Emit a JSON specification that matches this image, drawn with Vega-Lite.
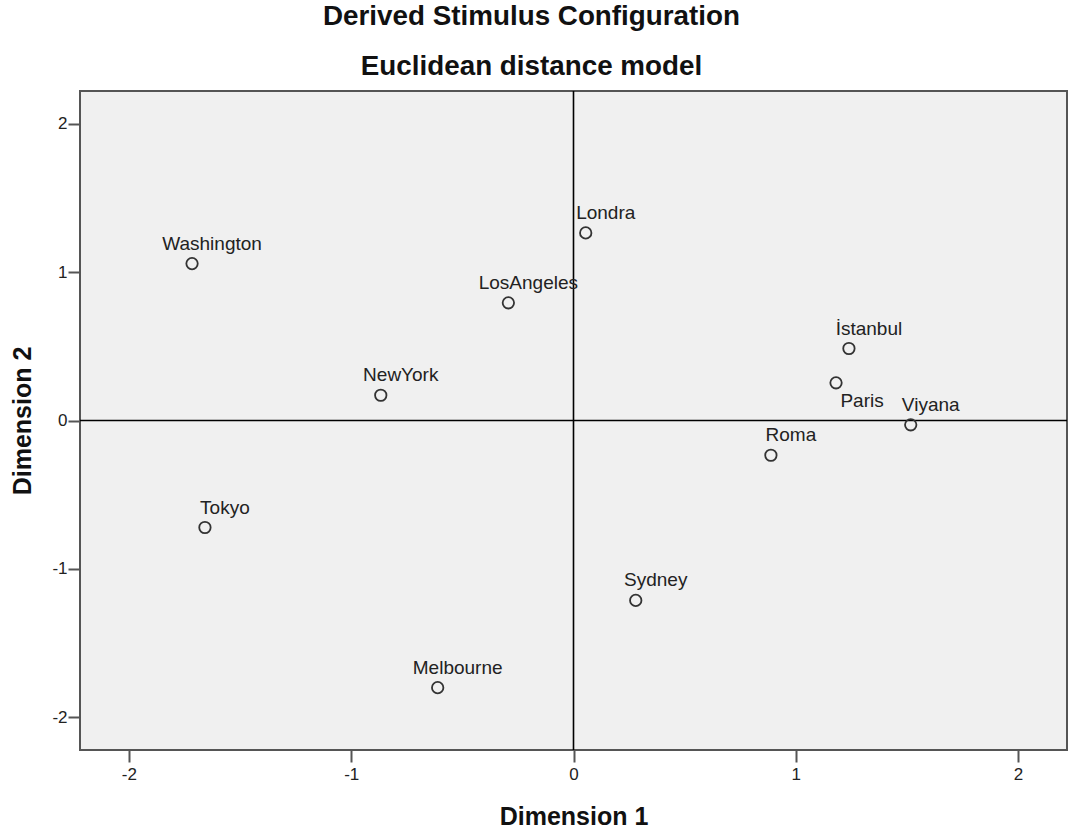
{
  "$schema": "https://vega.github.io/schema/vega-lite/v6.json",
  "width": 987,
  "height": 659,
  "autosize": {"type": "none"},
  "padding": {"left": 80, "top": 91, "right": 5, "bottom": 85},
  "background": "white",
  "config": {
    "view": {"stroke": "#555555", "strokeWidth": 2, "fill": "#f0f0f0"},
    "font": "Liberation Sans"
  },
  "title": {
    "text": "Derived Stimulus Configuration",
    "subtitle": "Euclidean distance model",
    "font": "Liberation Sans",
    "subtitleFont": "Liberation Sans",
    "fontSize": 27.8,
    "subtitleFontSize": 27.8,
    "fontWeight": "bold",
    "subtitleFontWeight": "bold",
    "color": "#111111",
    "subtitleColor": "#111111",
    "anchor": "middle",
    "frame": "group",
    "dx": -42,
    "offset": 9,
    "subtitlePadding": 23
  },
  "data": {
    "values": [
      {"city": "Washington", "dim1": -1.716, "dim2": 1.057},
      {"city": "Londra", "dim1": 0.055, "dim2": 1.264},
      {"city": "LosAngeles", "dim1": -0.293, "dim2": 0.793},
      {"city": "NewYork", "dim1": -0.867, "dim2": 0.170},
      {"city": "İstanbul", "dim1": 1.239, "dim2": 0.485},
      {"city": "Paris", "dim1": 1.181, "dim2": 0.254},
      {"city": "Viyana", "dim1": 1.517, "dim2": -0.029},
      {"city": "Roma", "dim1": 0.888, "dim2": -0.234},
      {"city": "Tokyo", "dim1": -1.658, "dim2": -0.721},
      {"city": "Sydney", "dim1": 0.280, "dim2": -1.212},
      {"city": "Melbourne", "dim1": -0.611, "dim2": -1.800}
    ]
  },
  "layer": [
    {
      "data": {"values": [{"v": 0}]},
      "mark": {"type": "rule", "color": "#000000", "strokeWidth": 1.6},
      "encoding": {
        "x": {"field": "v", "type": "quantitative", "title": "Dimension 1", "scale": {"domain": [-2.22, 2.22], "nice": false, "zero": false}}
      }
    },
    {
      "data": {"values": [{"v": 0}]},
      "mark": {"type": "rule", "color": "#000000", "strokeWidth": 1.6},
      "encoding": {
        "y": {"field": "v", "type": "quantitative", "title": "Dimension 2", "scale": {"domain": [-2.22, 2.22], "nice": false, "zero": false}}
      }
    },
    {
      "mark": {"type": "point", "shape": "circle", "filled": false, "stroke": "#333333", "strokeWidth": 1.8, "size": 130, "opacity": 1},
      "encoding": {
        "x": {
          "field": "dim1", "type": "quantitative", "title": "Dimension 1",
          "scale": {"domain": [-2.22, 2.22], "nice": false, "zero": false},
          "axis": {
            "values": [-2, -1, 0, 1, 2], "title": "Dimension 1", "grid": false, "domain": false,
            "tickSize": 12, "tickWidth": 2, "tickColor": "#555555",
            "labelFontSize": 17, "labelColor": "#222222", "labelPadding": 4, "labelFont": "Liberation Sans",
            "labelExpr": "toString(datum.value)",
            "titleFont": "Liberation Sans", "titleFontSize": 25, "titleFontWeight": "bold", "titleColor": "#111111",
            "titleY": 74, "titleBaseline": "alphabetic"
          }
        },
        "y": {
          "field": "dim2", "type": "quantitative", "title": "Dimension 2",
          "scale": {"domain": [-2.22, 2.22], "nice": false, "zero": false},
          "axis": {
            "values": [-2, -1, 0, 1, 2], "title": "Dimension 2", "grid": false, "domain": false,
            "tickSize": 12, "tickWidth": 2, "tickColor": "#555555",
            "labelFontSize": 17, "labelColor": "#222222", "labelPadding": 1, "labelFont": "Liberation Sans",
            "labelExpr": "toString(datum.value)",
            "titleFont": "Liberation Sans", "titleFontSize": 25, "titleFontWeight": "bold", "titleColor": "#111111",
            "titleX": -58, "titleY": 329.5, "titleAngle": -90, "titleBaseline": "middle", "titleAlign": "center"
          }
        }
      }
    },
    {
      "transform": [{"filter": "datum.city !== 'Paris'"}],
      "mark": {"type": "text", "align": "center", "baseline": "middle", "dx": 20, "dy": -20, "fontSize": 19, "font": "Liberation Sans", "color": "#222222"},
      "encoding": {
        "x": {"field": "dim1", "type": "quantitative", "title": "Dimension 1", "scale": {"domain": [-2.22, 2.22], "nice": false, "zero": false}},
        "y": {"field": "dim2", "type": "quantitative", "title": "Dimension 2", "scale": {"domain": [-2.22, 2.22], "nice": false, "zero": false}},
        "text": {"field": "city", "type": "nominal"}
      }
    },
    {
      "transform": [{"filter": "datum.city === 'Paris'"}],
      "mark": {"type": "text", "align": "center", "baseline": "middle", "dx": 26, "dy": 18, "fontSize": 19, "font": "Liberation Sans", "color": "#222222"},
      "encoding": {
        "x": {"field": "dim1", "type": "quantitative", "title": "Dimension 1", "scale": {"domain": [-2.22, 2.22], "nice": false, "zero": false}},
        "y": {"field": "dim2", "type": "quantitative", "title": "Dimension 2", "scale": {"domain": [-2.22, 2.22], "nice": false, "zero": false}},
        "text": {"field": "city", "type": "nominal"}
      }
    }
  ]
}
